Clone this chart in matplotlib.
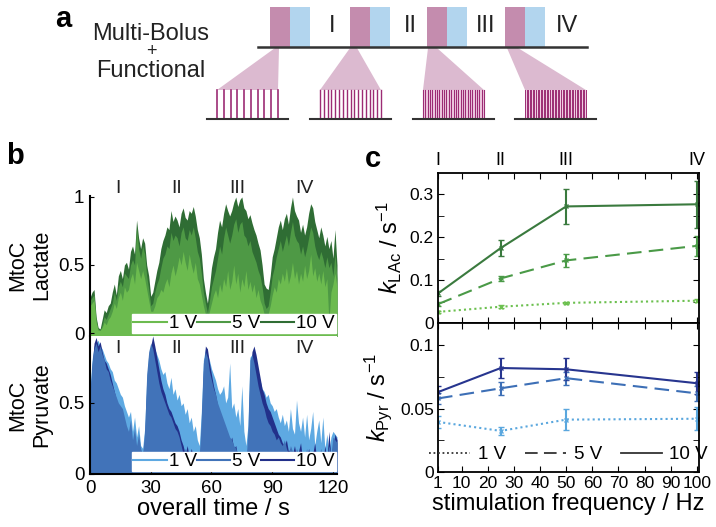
import numpy as np
import matplotlib
matplotlib.use('Agg')
import matplotlib.pyplot as plt
from matplotlib.patches import Rectangle, Polygon
from matplotlib.lines import Line2D

plt.rcParams['font.family'] = ['Liberation Sans', 'DejaVu Sans']
plt.rcParams['mathtext.fontset'] = 'custom'
plt.rcParams['mathtext.rm'] = 'Liberation Sans'
plt.rcParams['mathtext.it'] = 'Liberation Sans:italic'

# ---- panel a: schematic ----
roman = ['I', 'II', 'III', 'IV']
block_left = [270, 350, 427, 505]
roman_x = [332, 410, 486, 567]
apex = [(275, 279), (350, 357), (428, 437), (507, 518)]
train_left = [217, 320, 423, 525]
pulse_counts = [10, 17, 27, 40]

# ---- panel b: MtoC time courses, 1 s steps ----
time_s = np.arange(0, 123)
lac_10v = [0.26, 0.30, 0.32, 0.12, 0.04, 0.03, 0.10, 0.17, 0.15, 0.20,
           0.22, 0.30, 0.36, 0.28, 0.42, 0.46, 0.40, 0.50, 0.52, 0.47,
           0.60, 0.64, 0.58, 0.83, 0.70, 0.62, 0.70, 0.66, 0.50, 0.42,
           0.27, 0.30, 0.38, 0.46, 0.52, 0.62, 0.68, 0.72, 0.78, 0.76,
           0.90, 0.82, 0.86, 0.83, 0.78, 0.88, 0.92, 0.85, 0.83, 0.90,
           0.88, 0.93, 0.86, 0.76, 0.70, 0.58, 0.40, 0.30, 0.22, 0.34,
           0.48, 0.56, 0.62, 0.74, 0.83, 0.78, 0.88, 0.95, 0.90, 0.86,
           0.90, 0.96, 1.00, 0.93, 0.98, 1.00, 0.92, 0.90, 0.84, 0.87,
           0.81, 0.76, 0.72, 0.66, 0.61, 0.50, 0.36, 0.33, 0.32, 0.42,
           0.56, 0.62, 0.70, 0.78, 0.83, 0.76, 0.84, 0.88, 0.80, 0.92,
           1.00, 0.90, 0.86, 0.83, 0.74, 0.80, 0.72, 0.78, 0.88, 0.95,
           0.92, 0.82, 0.76, 0.70, 0.78, 0.72, 0.64, 0.71, 0.62, 0.68,
           0.55, 0.76, 0.50]
lac_5v = [0.24, 0.26, 0.28, 0.10, 0.03, 0.02, 0.06, 0.12, 0.10, 0.14,
          0.18, 0.22, 0.30, 0.24, 0.34, 0.38, 0.34, 0.44, 0.42, 0.40,
          0.50, 0.54, 0.50, 0.78, 0.62, 0.55, 0.64, 0.58, 0.42, 0.32,
          0.20, 0.22, 0.30, 0.36, 0.40, 0.48, 0.55, 0.58, 0.64, 0.62,
          0.74, 0.68, 0.72, 0.70, 0.64, 0.74, 0.78, 0.70, 0.68, 0.76,
          0.72, 0.78, 0.70, 0.60, 0.55, 0.44, 0.30, 0.22, 0.15, 0.24,
          0.34, 0.40, 0.46, 0.55, 0.64, 0.58, 0.70, 0.78, 0.72, 0.66,
          0.72, 0.80, 0.84, 0.74, 0.80, 0.82, 0.72, 0.70, 0.64, 0.68,
          0.60, 0.56, 0.52, 0.46, 0.42, 0.34, 0.22, 0.18, 0.20, 0.30,
          0.42, 0.48, 0.56, 0.62, 0.68, 0.60, 0.66, 0.72, 0.64, 0.74,
          0.82, 0.72, 0.68, 0.66, 0.58, 0.64, 0.56, 0.62, 0.70, 0.78,
          0.74, 0.64, 0.58, 0.54, 0.60, 0.55, 0.48, 0.56, 0.48, 0.52,
          0.42, 0.58, 0.40]
lac_1v = [0.20, 0.22, 0.24, 0.08, 0.02, 0.02, 0.04, 0.08, 0.06, 0.10,
          0.12, 0.16, 0.22, 0.18, 0.26, 0.30, 0.24, 0.34, 0.30, 0.32,
          0.40, 0.44, 0.36, 0.52, 0.46, 0.40, 0.46, 0.40, 0.32, 0.24,
          0.16, 0.16, 0.20, 0.26, 0.28, 0.32, 0.30, 0.36, 0.40, 0.34,
          0.44, 0.50, 0.42, 0.48, 0.56, 0.50, 0.60, 0.52, 0.46, 0.58,
          0.50, 0.44, 0.52, 0.40, 0.36, 0.28, 0.20, 0.14, 0.10, 0.16,
          0.22, 0.28, 0.32, 0.26, 0.36, 0.30, 0.40, 0.34, 0.46, 0.32,
          0.38, 0.50, 0.36, 0.44, 0.30, 0.40, 0.34, 0.46, 0.32, 0.38,
          0.30, 0.36, 0.26, 0.32, 0.24, 0.20, 0.14, 0.12, 0.14, 0.20,
          0.28, 0.34, 0.30, 0.40, 0.36, 0.44, 0.38, 0.48, 0.36, 0.42,
          0.52, 0.40, 0.46, 0.36, 0.44, 0.38, 0.50, 0.40, 0.46, 0.58,
          0.42, 0.48, 0.38, 0.44, 0.36, 0.46, 0.34, 0.40, 0.08, 0.30,
          0.36, 0.44, 0.34]
pyr_5v = [0.55, 0.78, 0.88, 0.92, 0.86, 0.90, 0.84, 0.80, 0.74, 0.72,
          0.66, 0.62, 0.58, 0.54, 0.50, 0.48, 0.46, 0.40, 0.34, 0.30,
          0.38, 0.24, 0.32, 0.20, 0.28, 0.18, 0.14, 0.30, 0.70, 0.86,
          0.92, 0.88, 0.80, 0.72, 0.64, 0.58, 0.54, 0.50, 0.46, 0.42,
          0.40, 0.36, 0.32, 0.30, 0.26, 0.20, 0.14, 0.18, 0.12, 0.16,
          0.10, 0.14, 0.10, 0.12, 0.10, 0.40, 0.78, 0.86, 0.82, 0.72,
          0.66, 0.60, 0.56, 0.50, 0.46, 0.42, 0.38, 0.34, 0.30, 0.26,
          0.24, 0.20, 0.18, 0.14, 0.12, 0.10, 0.14, 0.08, 0.30, 0.80,
          0.84, 0.78, 0.70, 0.62, 0.56, 0.50, 0.46, 0.40, 0.36, 0.34,
          0.30, 0.28, 0.24, 0.26, 0.22, 0.20, 0.24, 0.18, 0.14, 0.20,
          0.16, 0.12, 0.18, 0.14, 0.10, 0.16, 0.12, 0.18, 0.10, 0.14,
          0.16, 0.10, 0.14, 0.12, 0.18, 0.10, 0.14, 0.12, 0.20, 0.14,
          0.26, 0.24, 0.22]
pyr_10v = [0.50, 0.74, 0.92, 0.96, 0.90, 0.93, 0.86, 0.80, 0.78, 0.74,
           0.70, 0.64, 0.58, 0.52, 0.46, 0.42, 0.40, 0.36, 0.30, 0.26,
           0.30, 0.20, 0.26, 0.16, 0.22, 0.14, 0.12, 0.24, 0.60, 0.80,
           0.90, 0.97, 0.90, 0.82, 0.74, 0.66, 0.60, 0.56, 0.50, 0.46,
           0.44, 0.40, 0.36, 0.34, 0.30, 0.24, 0.20, 0.14, 0.20, 0.12,
           0.18, 0.12, 0.08, 0.14, 0.08, 0.30, 0.72, 0.90, 0.88, 0.78,
           0.70, 0.62, 0.56, 0.48, 0.44, 0.40, 0.36, 0.32, 0.28, 0.22,
           0.26, 0.18, 0.20, 0.12, 0.16, 0.08, 0.10, 0.06, 0.20, 0.70,
           0.86, 0.90, 0.84, 0.76, 0.68, 0.60, 0.56, 0.50, 0.46, 0.44,
           0.40, 0.36, 0.32, 0.28, 0.26, 0.22, 0.20, 0.24, 0.16, 0.18,
           0.14, 0.20, 0.12, 0.16, 0.22, 0.10, 0.14, 0.12, 0.18, 0.10,
           0.14, 0.22, 0.10, 0.16, 0.12, 0.08, 0.20, 0.10, 0.30, 0.12,
           0.20, 0.28, 0.24]
pyr_1v = [0.60, 0.80, 0.90, 0.92, 0.94, 0.90, 0.88, 0.84, 0.80, 0.78,
          0.74, 0.72, 0.66, 0.64, 0.60, 0.56, 0.54, 0.48, 0.44, 0.40,
          0.44, 0.30, 0.40, 0.26, 0.34, 0.20, 0.18, 0.32, 0.66, 0.84,
          0.90, 0.92, 0.88, 0.84, 0.80, 0.74, 0.70, 0.72, 0.64, 0.60,
          0.68, 0.56, 0.60, 0.52, 0.56, 0.48, 0.50, 0.42, 0.46, 0.36,
          0.40, 0.30, 0.34, 0.24, 0.20, 0.44, 0.80, 0.88, 0.84, 0.80,
          0.74, 0.70, 0.66, 0.60, 0.56, 0.58, 0.62, 0.50, 0.54, 0.78,
          0.46, 0.50, 0.40, 0.46, 0.34, 0.62, 0.30, 0.20, 0.34, 0.82,
          0.84, 0.80, 0.76, 0.70, 0.66, 0.60, 0.58, 0.54, 0.56, 0.50,
          0.48, 0.44, 0.46, 0.40, 0.36, 0.42, 0.34, 0.38, 0.30, 0.46,
          0.32, 0.28, 0.52, 0.36, 0.30, 0.40, 0.26, 0.42, 0.24, 0.32,
          0.44, 0.20, 0.30, 0.38, 0.22, 0.40, 0.18, 0.28, 0.16, 0.26,
          0.30, 0.28, 0.26]
segment_t = [14, 43, 73, 106]

# ---- panel c: rate constants ----
freq_hz = [1, 25, 50, 100]
klac_10v = [0.069, 0.175, 0.272, 0.277]
klac_10v_err = [0.005, 0.019, 0.040, 0.055]
klac_5v = [0.044, 0.104, 0.146, 0.180]
klac_5v_err = [0.004, 0.006, 0.015, 0.024]
klac_1v = [0.026, 0.038, 0.047, 0.052]
klac_1v_err = [0.002, 0.003, 0.003, 0.004]
kpyr_10v = [0.063, 0.082, 0.081, 0.070]
kpyr_10v_err = [0.005, 0.008, 0.0086, 0.0086]
kpyr_5v = [0.058, 0.066, 0.074, 0.062]
kpyr_5v_err = [0.004, 0.005, 0.005, 0.006]
kpyr_1v = [0.0395, 0.0324, 0.0413, 0.042]
kpyr_1v_err = [0.005, 0.003, 0.008, 0.009]
freq_ticks = [1, 10, 20, 30, 40, 50, 60, 70, 80, 90, 100]

W, H = 716, 527
fig = plt.figure(figsize=(W / 100, H / 100), dpi=100)


def frac(left, top, right, bottom):
    return [left / W, 1 - bottom / H, (right - left) / W, (bottom - top) / H]


# ---------------- panel a ----------------
bolus_col = '#c48cae'
func_col = '#b2d5ee'
cone_col = '#dcbad0'
pulse_col = '#9c2c74'
axa = fig.add_axes([0, 1 - 130 / H, 1, 130 / H])
axa.set_xlim(0, W)
axa.set_ylim(130, 0)
axa.axis('off')
pulse_lw = [1.2, 1.0, 0.8, 0.7]
for i in range(4):
    bx = block_left[i]
    axa.add_patch(Rectangle((bx, 7), 20, 40, color=bolus_col, lw=0))
    axa.add_patch(Rectangle((bx + 20, 7), 20, 40, color=func_col, lw=0))
    axa.text(roman_x[i], 26, roman[i], fontsize=17, ha='center', va='center', color='#222222')
    tl = train_left[i]
    axa.add_patch(Polygon([(apex[i][0], 48), (apex[i][1], 48), (tl + 61, 90), (tl, 90)],
                          closed=True, color=cone_col, lw=0))
    if i >= 2:
        axa.add_patch(Rectangle((tl, 90), 61, 28, color='#f0cde3', lw=0))
    for px in np.linspace(tl, tl + 61, pulse_counts[i]):
        axa.plot([px, px], [90, 118], color=pulse_col, lw=pulse_lw[i])
    axa.plot([tl - 10, tl + 71], [119, 119], color='#333333', lw=1.5)
axa.plot([258, 587], [47, 47], color='#333333', lw=1.8)
axa.text(151, 34, 'Multi-Bolus', fontsize=17, ha='center', va='center', color='#222222')
axa.text(151, 52, '+', fontsize=13, ha='center', va='center', color='#222222')
axa.text(151, 71, 'Functional', fontsize=17, ha='center', va='center', color='#222222')

fig.text(63 / W, 1 - 19 / H, 'a', fontsize=21, fontweight='bold', ha='center', va='center')
fig.text(15 / W, 1 - 156 / H, 'b', fontsize=21, fontweight='bold', ha='center', va='center')
fig.text(373 / W, 1 - 159 / H, 'c', fontsize=21, fontweight='bold', ha='center', va='center')

# ---------------- panel b ----------------
lac_cols = ['#6cbb4f', '#4e9945', '#2f6d34']
pyr_cols = ['#5ea9e2', '#4173b9', '#22308a']

axl = fig.add_axes(frac(90, 196, 337, 336))
axl.fill_between(time_s, -0.03, lac_10v, color=lac_cols[2], lw=0)
axl.fill_between(time_s, -0.03, lac_5v, color=lac_cols[1], lw=0)
axl.fill_between(time_s, -0.03, lac_1v, color=lac_cols[0], lw=0)
axl.set_xlim(0, 122)
axl.set_ylim(-0.022, 1.007)
axl.set_yticks([0, 0.5, 1])
axl.set_yticklabels(['0', '0.5', '1'])
axl.set_xticks([])
for s in ['top', 'right', 'bottom']:
    axl.spines[s].set_visible(False)
axl.spines['left'].set_linewidth(1.5)
axl.tick_params(axis='y', direction='in', length=3, labelsize=13.5, pad=4)
for i in range(4):
    axl.text(segment_t[i], 1.06, roman[i], fontsize=14, ha='center', va='center',
             clip_on=False, color='#222222')
h = [Line2D([], [], color=c, lw=1.5) for c in lac_cols]
axl.legend(h, ['1 V', '5 V', '10 V'], ncol=3, loc='lower right',
           bbox_to_anchor=(0.995, 0.02), fontsize=13.5, frameon=True,
           fancybox=False, framealpha=1, edgecolor='white', borderpad=0.05,
           handlelength=1.8, handletextpad=0.1, columnspacing=0.0,
           borderaxespad=0)
fig.text(30 / W, 1 - 265 / H, 'MtoC\nLactate', rotation=90, fontsize=15.5,
         ha='center', va='center', multialignment='center')

axp = fig.add_axes(frac(90, 336, 337, 474))
axp.fill_between(time_s, 0, pyr_1v, color=pyr_cols[0], lw=0)
axp.fill_between(time_s, 0, pyr_10v, color=pyr_cols[2], lw=0)
axp.fill_between(time_s, 0, pyr_5v, color=pyr_cols[1], lw=0)
axp.set_xlim(0, 122)
axp.set_ylim(0, 0.97)
axp.set_yticks([0, 0.5])
axp.set_yticklabels(['0', '0.5'])
axp.set_xticks([0, 30, 60, 90, 120])
for s in ['top', 'right']:
    axp.spines[s].set_visible(False)
axp.spines['left'].set_linewidth(1.5)
axp.spines['bottom'].set_linewidth(1.5)
axp.tick_params(direction='in', length=3, labelsize=13.5, pad=4)
for i in range(4):
    axp.text(segment_t[i], 0.885, roman[i], fontsize=14, ha='center', va='center',
             color='#222222')
h = [Line2D([], [], color=c, lw=1.5) for c in pyr_cols]
axp.legend(h, ['1 V', '5 V', '10 V'], ncol=3, loc='lower right',
           bbox_to_anchor=(0.995, 0.02), fontsize=13.5, frameon=True,
           fancybox=False, framealpha=1, edgecolor='white', borderpad=0.05,
           handlelength=1.8, handletextpad=0.1, columnspacing=0.0,
           borderaxespad=0)
axp.set_xlabel('overall time / s', fontsize=17, labelpad=1)
fig.text(30 / W, 1 - 405 / H, 'MtoC\nPyruvate', rotation=90, fontsize=15.5,
         ha='center', va='center', multialignment='center')

# ---------------- panel c ----------------
dash = (7, 3.5)
dot = (1, 1.5)
axc1 = fig.add_axes(frac(438, 173, 699, 323))
axc2 = fig.add_axes(frac(438, 323, 699, 472))

eb = dict(capsize=2.5, elinewidth=1.5, capthick=1.5, lw=1.5, marker='x', ms=3, mew=1)
for ax, series, cols in [
        (axc1, [(klac_1v, klac_1v_err, dot), (klac_5v, klac_5v_err, dash),
                (klac_10v, klac_10v_err, None)], ['#6cc04f', '#4a9a47', '#3a7a3e']),
        (axc2, [(kpyr_1v, kpyr_1v_err, dot), (kpyr_5v, kpyr_5v_err, dash),
                (kpyr_10v, kpyr_10v_err, None)], ['#5aa7de', '#3d6fb6', '#27358f'])]:
    for (vals, err, d), c in zip(series, cols):
        cont = ax.errorbar(freq_hz, vals, yerr=err, color=c, **eb)
        if d is not None:
            cont.lines[0].set_dashes(d)
    ax.set_xlim(1, 100.8)
    ax.set_xticks(freq_ticks)
    ax.tick_params(which='both', direction='in', top=True, right=True, length=4,
                   labelsize=12.5, pad=3)
    for s in ax.spines.values():
        s.set_linewidth(1.3)

axc1.set_ylim(0, 0.35)
axc1.set_yticks([0, 0.1, 0.2, 0.3])
axc1.set_yticklabels(['0', '0.1', '0.2', '0.3'])
axc1.set_yticks([0.05, 0.15, 0.25], minor=True)
axc1.tick_params(axis='x', labelbottom=False)
top = axc1.secondary_xaxis('top')
top.set_xticks(freq_hz)
top.set_xticklabels(roman)
top.tick_params(length=0, labelsize=13, pad=3)
top.spines['top'].set_visible(False)
axc1.set_ylabel(r'$k_{\mathrm{LAc}}$ / s$^{\mathrm{-1}}$', fontsize=17, labelpad=4)

axc2.set_ylim(0, 0.1175)
axc2.set_yticks([0, 0.05, 0.1])
axc2.set_yticklabels(['0', '0.05', '0.1'])
axc2.set_yticks([0.025, 0.075], minor=True)
axc2.set_ylabel(r'$k_{\mathrm{Pyr}}$ / s$^{\mathrm{-1}}$', fontsize=17, labelpad=4)
axc2.set_xlabel('stimulation frequency / Hz', fontsize=17, labelpad=1)
lh = [Line2D([], [], color='#333333', lw=1.3, dashes=dot),
      Line2D([], [], color='#333333', lw=1.3, dashes=dash),
      Line2D([], [], color='#333333', lw=1.3)]
axc2.legend(lh, ['1 V', '5 V', '10 V'], ncol=3, loc='center', bbox_to_anchor=(0.5, 0.115),
            frameon=False, fontsize=13.5, handlelength=2.2, handletextpad=0.4,
            columnspacing=1.0)

fig.savefig('out.png', dpi=100)
